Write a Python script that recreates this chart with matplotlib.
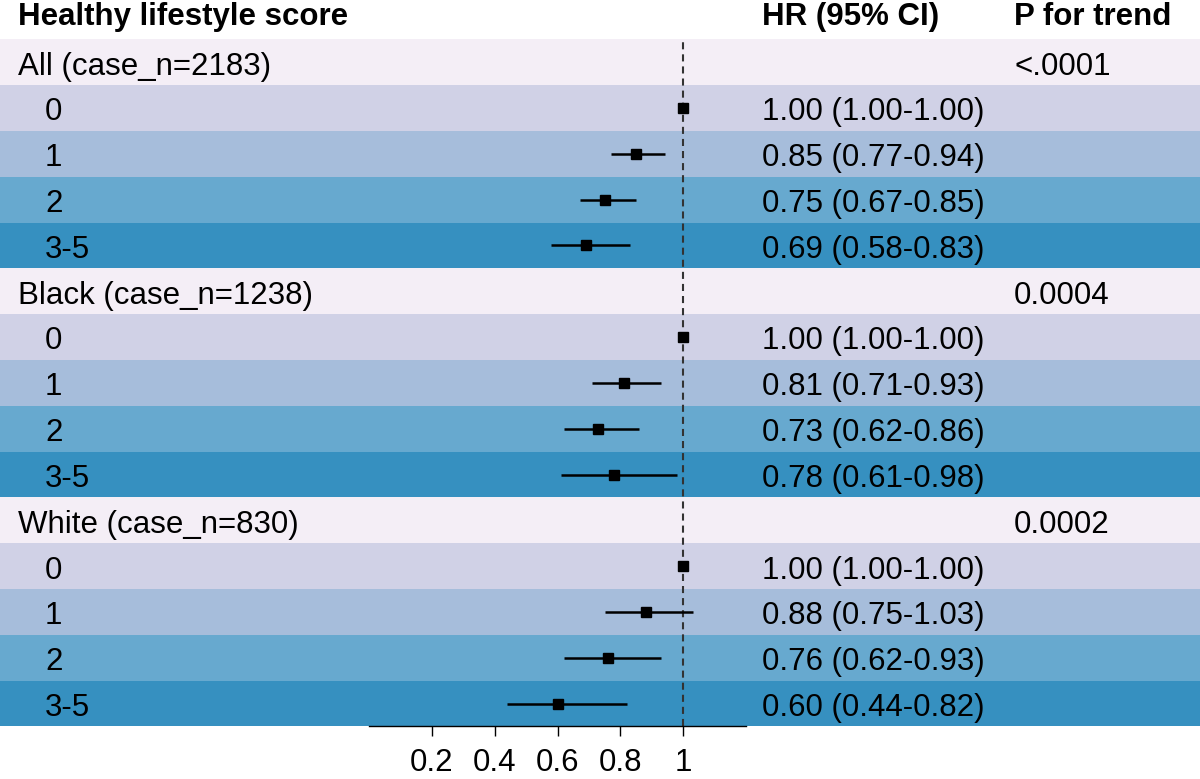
import matplotlib.pyplot as plt
from matplotlib.transforms import blended_transform_factory

plt.rcParams['font.family'] = ['Liberation Sans', 'DejaVu Sans']

# data
groups = ["All (case_n=2183)", "Black (case_n=1238)", "White (case_n=830)"]
p_trend = ["<.0001", "0.0004", "0.0002"]
scores = ["0", "1", "2", "3-5"]
hr = [[1.00, 0.85, 0.75, 0.69],
      [1.00, 0.81, 0.73, 0.78],
      [1.00, 0.88, 0.76, 0.60]]
ci_low = [[1.00, 0.77, 0.67, 0.58],
          [1.00, 0.71, 0.62, 0.61],
          [1.00, 0.75, 0.62, 0.44]]
ci_high = [[1.00, 0.94, 0.85, 0.83],
           [1.00, 0.93, 0.86, 0.98],
           [1.00, 1.03, 0.93, 0.82]]
x_ticks = [0.2, 0.4, 0.6, 0.8, 1.0]
x_tick_labels = ["0.2", "0.4", "0.6", "0.8", "1"]

group_color = "#F4EEF6"
score_colors = ["#D0D1E6", "#A6BDDB", "#67A9CF", "#3690C0"]
fs = 22.5

fig = plt.figure(figsize=(12, 7.79), dpi=100)
ax = fig.add_axes([0, 0.0674, 1, 0.8822])
n_rows = len(groups) * (len(scores) + 1)
ax.set_xlim(-1.1723, 2.6421)
ax.set_ylim(n_rows - 0.5, -0.5)

tr = blended_transform_factory(fig.transFigure, ax.transData)
x_group, x_score, x_hr, x_p = 0.015, 0.0375, 0.635, 0.845
off = 0.27  # baseline offset inside a row

row = 0
for g, name in enumerate(groups):
    ax.axhspan(row - 0.5, row + 0.5, color=group_color, lw=0, zorder=0)
    ax.text(x_group, row + off, name, transform=tr, fontsize=fs, va='baseline')
    ax.text(x_p, row + off, p_trend[g], transform=tr, fontsize=fs, va='baseline')
    row += 1
    for k, s in enumerate(scores):
        ax.axhspan(row - 0.5, row + 0.5, color=score_colors[k], lw=0, zorder=0)
        ax.text(x_score, row + off, s, transform=tr, fontsize=fs, va='baseline')
        ax.text(x_hr, row + off,
                f"{hr[g][k]:.2f} ({ci_low[g][k]:.2f}-{ci_high[g][k]:.2f})",
                transform=tr, fontsize=fs, va='baseline')
        ax.hlines(row, ci_low[g][k], ci_high[g][k], color='black', lw=1.8, zorder=3)
        ax.plot(hr[g][k], row, 's', color='black', ms=7, zorder=4)
        row += 1

ax.axvline(1, color='#333333', lw=1.5, ls=(0, (3.4, 2.4)), zorder=2)

# header
fig.text(x_group, 1 - 25 / 779, "Healthy lifestyle score", fontsize=fs,
         fontweight='bold', va='baseline')
fig.text(x_hr, 1 - 25 / 779, "HR (95% CI)", fontsize=fs, fontweight='bold', va='baseline')
fig.text(x_p, 1 - 25 / 779, "P for trend", fontsize=fs, fontweight='bold', va='baseline')

# axis
for side in ['top', 'left', 'right']:
    ax.spines[side].set_visible(False)
ax.spines['bottom'].set_bounds(0, 1.2)
ax.spines['bottom'].set_linewidth(1.0)
ax.spines['bottom'].set_zorder(5)
ax.set_yticks([])
ax.set_xticks(x_ticks)
ax.set_xticklabels(x_tick_labels, fontsize=fs)
ax.tick_params(axis='x', direction='out', length=7.2, width=1.0, pad=8)

fig.savefig("out.png", dpi=100)
